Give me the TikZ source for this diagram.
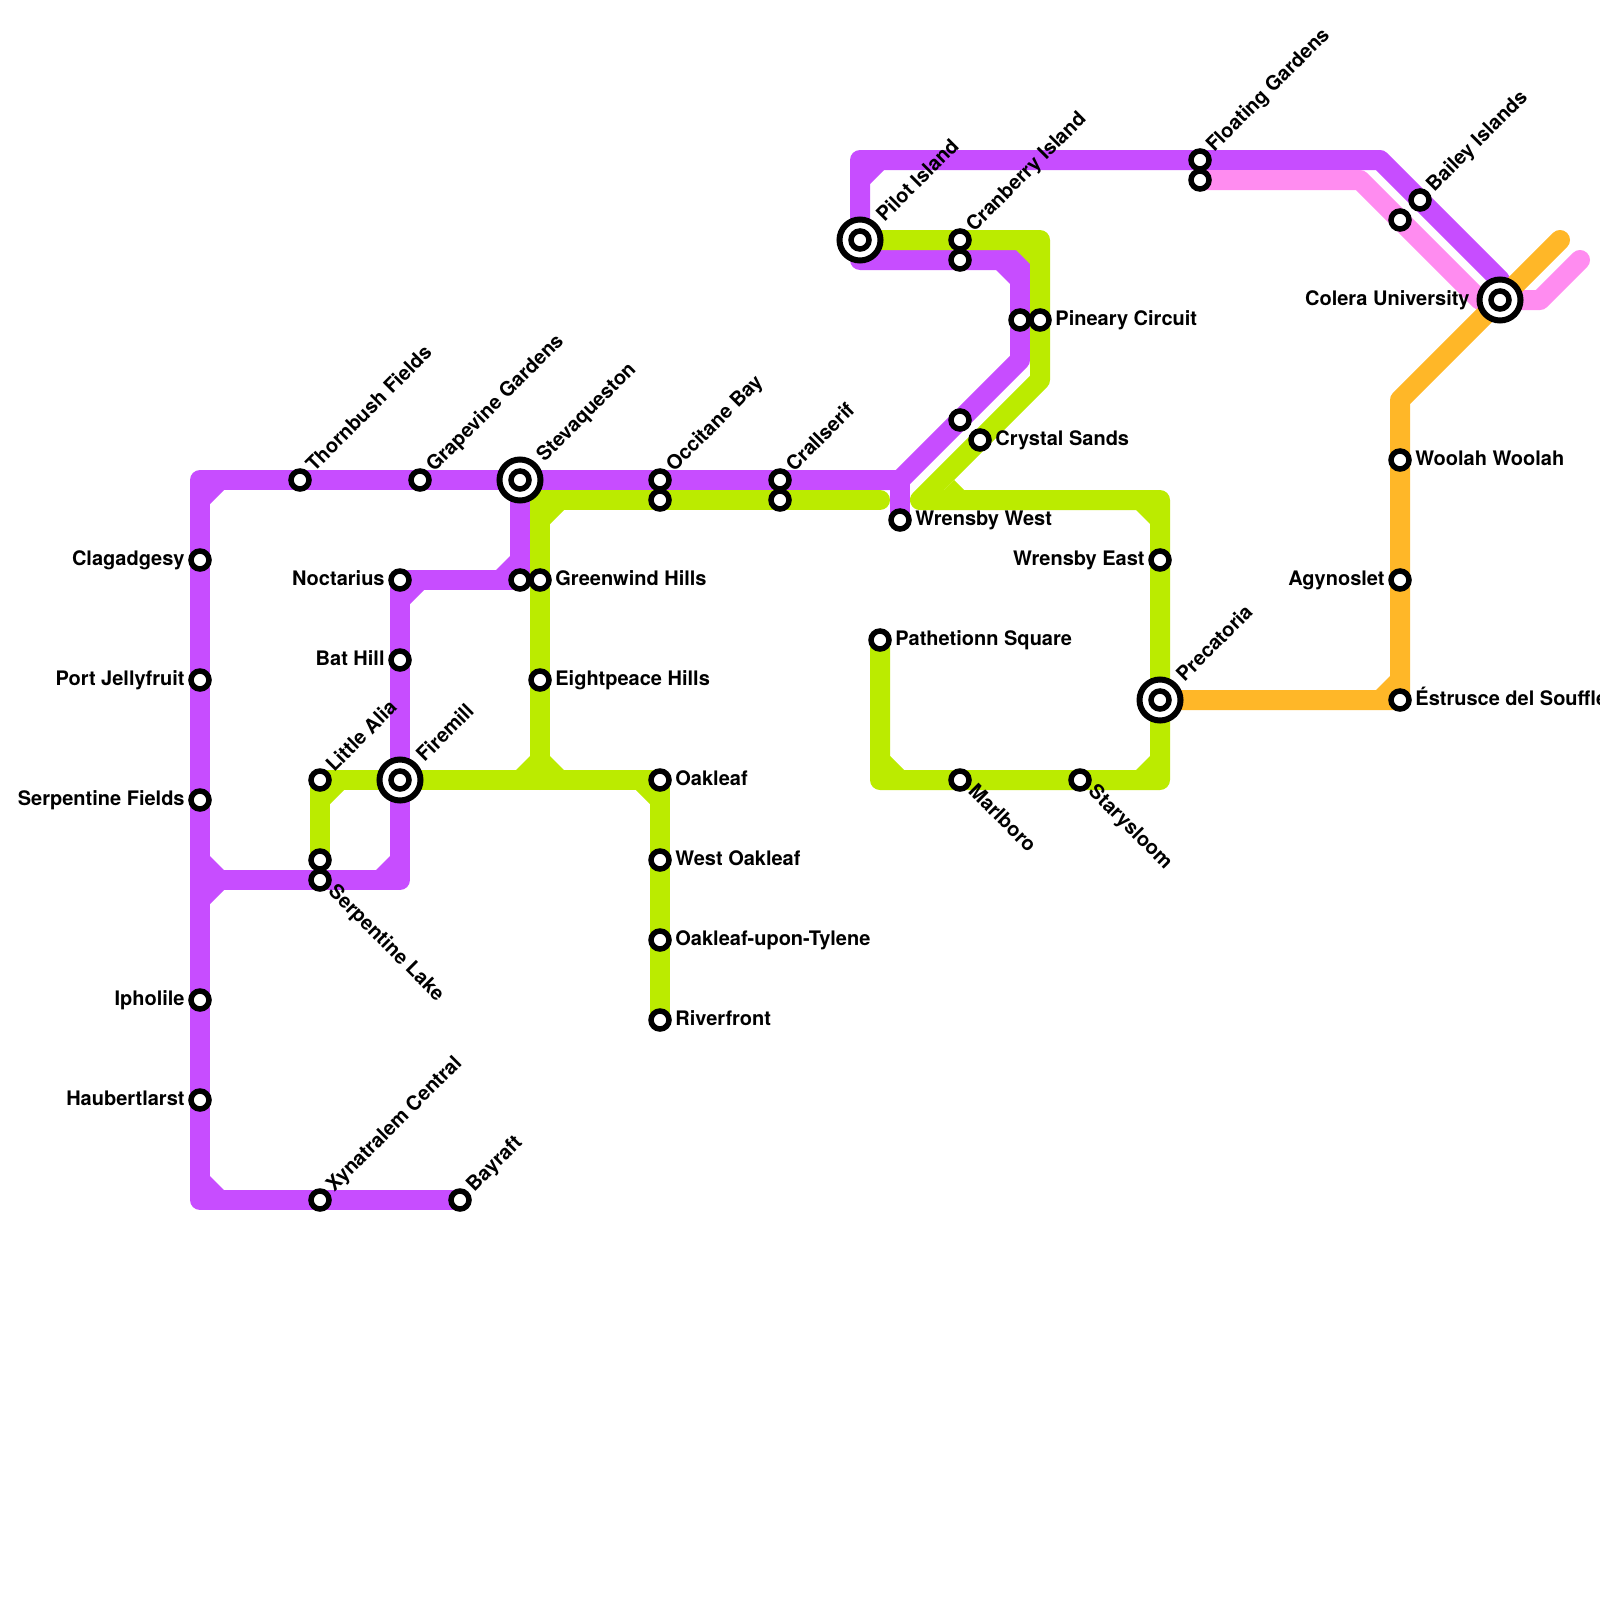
\documentclass[tikz,border=0pt]{standalone}
\usepackage{fontspec}
\setmainfont{TeX Gyre Heros}
\usetikzlibrary{backgrounds}
\definecolor{linepurple}{HTML}{C74DFF}
\definecolor{linepink}{HTML}{FF8CF0}
\definecolor{linegreen}{HTML}{BBEB00}
\definecolor{lineorange}{HTML}{FFB728}
\tikzset{
  stn/.style={circle,draw=black,fill=white,line width=2.75pt,minimum size=9pt,inner sep=0pt},
  hub/.style={circle,draw=black,fill=white,line width=3pt,minimum size=20.5pt,inner sep=0pt},
  metro/.style={line width=10pt,line cap=round,line join=round},
  lbl/.style={font=\bfseries\fontsize{10}{12}\selectfont,inner sep=0pt,black},
  lblr/.style={lbl,anchor=base west,xshift=7.5pt,yshift=-2.8pt},
  lbll/.style={lbl,anchor=base east,xshift=-7.5pt,yshift=-2.8pt},
  lblu/.style={lbl,anchor=base west,xshift=7pt,yshift=3.5pt,rotate=45},
  lbld/.style={lbl,anchor=base west,xshift=3.6pt,yshift=-6.3pt,rotate=-45},
  hubu/.style={lbl,anchor=base west,xshift=12.2pt,yshift=8.5pt,rotate=45},
}
% inner corner of a bend: corner point, then the two directions
\newcommand{\bendcut}[5]{\fill[#1] (#2,#3) -- ++(#4*14,0) -- ++(-#4*14,#5*14) -- cycle;}
\begin{document}
\begin{tikzpicture}[x=0.5pt,y=-0.5pt]
  \useasboundingbox (0,0) rectangle (1600,1600);
  % stations, left block
  \node[stn] (clagadgesy) at (200,560) {};
  \node[stn] (jellyfruit) at (200,680) {};
  \node[stn] (serpfields) at (200,800) {};
  \node[stn] (ipholile) at (200,1000) {};
  \node[stn] (haubertlarst) at (200,1100) {};
  \node[stn] (thornbush) at (300,480) {};
  \node[stn] (grapevine) at (420,480) {};
  \node[hub] (stevahub) at (520,480) {};
  \node[stn] (stevaqueston) at (520,480) {};
  \node[stn] (noctarius) at (400,580) {};
  \node[stn] (bathill) at (400,660) {};
  \node[stn] (littlealia) at (320,780) {};
  \node[hub] (firehub) at (400,780) {};
  \node[stn] (firemill) at (400,780) {};
  \node[stn] (serplakeg) at (320,860) {};
  \node[stn] (serplake) at (320,880) {};
  \node[stn] (xynatralem) at (320,1200) {};
  \node[stn] (bayraft) at (460,1200) {};
  \node[stn] (greenwindp) at (520,580) {};
  \node[stn] (greenwind) at (540,580) {};
  \node[stn] (eightpeace) at (540,680) {};
  \node[stn] (oakleaf) at (660,780) {};
  \node[stn] (westoakleaf) at (660,860) {};
  \node[stn] (tylene) at (660,940) {};
  \node[stn] (riverfront) at (660,1020) {};
  \node[stn] (occitane) at (660,480) {};
  \node[stn] (occitaneg) at (660,500) {};
  \node[stn] (crallserif) at (780,480) {};
  \node[stn] (crallserifg) at (780,500) {};
  % stations, right block
  \node[hub] (pilothub) at (860,240) {};
  \node[stn] (pilot) at (860,240) {};
  \node[stn] (cranberry) at (960,240) {};
  \node[stn] (cranberryp) at (960,260) {};
  \node[stn] (pinearyp) at (1020,320) {};
  \node[stn] (pineary) at (1040,320) {};
  \node[stn] (crystalp) at (960,420) {};
  \node[stn] (crystal) at (980,440) {};
  \node[stn] (wrensbyw) at (900,520) {};
  \node[stn] (wrensbye) at (1160,560) {};
  \node[stn] (pathetionn) at (880,640) {};
  \node[hub] (precahub) at (1160,700) {};
  \node[stn] (precatoria) at (1160,700) {};
  \node[stn] (marlboro) at (960,780) {};
  \node[stn] (starysloom) at (1080,780) {};
  \node[stn] (floating) at (1200,160) {};
  \node[stn] (floatingp) at (1200,180) {};
  \node[stn] (bailey) at (1420,200) {};
  \node[stn] (baileyp) at (1400,220) {};
  \node[hub] (colerahub) at (1500,300) {};
  \node[stn] (colera) at (1500,300) {};
  \node[stn] (woolah) at (1400,460) {};
  \node[stn] (agynoslet) at (1400,580) {};
  \node[stn] (estrusce) at (1400,700) {};
  % labels
  \node[lbll] (tclagadgesy) at (clagadgesy) {Clagadgesy};
  \node[lbll] (tjellyfruit) at (jellyfruit) {Port Jellyfruit};
  \node[lbll] (tserpfields) at (serpfields) {Serpentine Fields};
  \node[lbll] (tipholile) at (ipholile) {Ipholile};
  \node[lbll] (thaubertlarst) at (haubertlarst) {Haubertlarst};
  \node[lblu] (tthornbush) at (thornbush) {Thornbush Fields};
  \node[lblu] (tgrapevine) at (grapevine) {Grapevine Gardens};
  \node[hubu] (tstevaqueston) at (stevaqueston) {Stevaqueston};
  \node[lbll] (tnoctarius) at (noctarius) {Noctarius};
  \node[lbll] (tbathill) at (bathill) {Bat Hill};
  \node[lblu] (tlittlealia) at (littlealia) {Little Alia};
  \node[hubu] (tfiremill) at (firemill) {Firemill};
  \node[lbld] (tserplake) at (serplake) {Serpentine Lake};
  \node[lblu] (txynatralem) at (xynatralem) {Xynatralem Central};
  \node[lblu] (tbayraft) at (bayraft) {Bayraft};
  \node[lblr] (tgreenwind) at (greenwind) {Greenwind Hills};
  \node[lblr] (teightpeace) at (eightpeace) {Eightpeace Hills};
  \node[lblr] (toakleaf) at (oakleaf) {Oakleaf};
  \node[lblr] (twestoakleaf) at (westoakleaf) {West Oakleaf};
  \node[lblr] (ttylene) at (tylene) {Oakleaf-upon-Tylene};
  \node[lblr] (triverfront) at (riverfront) {Riverfront};
  \node[lblu] (toccitane) at (occitane) {Occitane Bay};
  \node[lblu] (tcrallserif) at (crallserif) {Crallserif};
  \node[hubu] (tpilot) at (pilot) {Pilot Island};
  \node[lblu] (tcranberry) at (cranberry) {Cranberry Island};
  \node[lblr] (tpineary) at (pineary) {Pineary Circuit};
  \node[lblr] (tcrystal) at (crystal) {Crystal Sands};
  \node[lblr] (twrensbyw) at (wrensbyw) {Wrensby West};
  \node[lbll] (twrensbye) at (wrensbye) {Wrensby East};
  \node[lblr] (tpathetionn) at (pathetionn) {Pathetionn Square};
  \node[hubu] (tprecatoria) at (precatoria) {Precatoria};
  \node[lbld] (tmarlboro) at (marlboro) {Marlboro};
  \node[lbld] (tstarysloom) at (starysloom) {Starysloom};
  \node[lblu] (tfloating) at (floating) {Floating Gardens};
  \node[lblu] (tbailey) at (bailey) {Bailey Islands};
  \node[lbll,xshift=-7.5pt] (tcolera) at (colera) {Colera University};
  \node[lblr] (twoolah) at (woolah) {Woolah Woolah};
  \node[lbll] (tagynoslet) at (agynoslet) {Agynoslet};
  \node[lblr] (testrusce) at (estrusce) {Éstrusce del Soufflé};
  % bends
  \coordinate (ptopleft) at (200,480);
  \coordinate (pbotleft) at (200,1200);
  \coordinate (pjoin) at (200,880);
  \coordinate (pfirecorner) at (400,880);
  \coordinate (pnoctcorner) at (520,580);
  \coordinate (pwest) at (900,480);
  \coordinate (pdiagtop) at (1020,360);
  \coordinate (pcrancorner) at (1020,260);
  \coordinate (ppilotcorner) at (860,260);
  \coordinate (ptopcorner) at (860,160);
  \coordinate (ptopright) at (1380,160);
  \coordinate (pcolera) at (1500,280);
  \coordinate (kfloat) at (1360,180);
  \coordinate (kcolera) at (1480,300);
  \coordinate (kbend) at (1540,300);
  \coordinate (kend) at (1580,260);
  \coordinate (oaggy) at (1400,400);
  \coordinate (oend) at (1560,240);
  \coordinate (gsteva) at (540,500);
  \coordinate (gend) at (880,500);
  \coordinate (gjoin) at (540,780);
  \coordinate (gtop) at (1040,240);
  \coordinate (gdiag) at (1040,380);
  \coordinate (gfoot) at (920,500);
  \coordinate (gcorner) at (1160,500);
  \coordinate (gbotright) at (1160,780);
  \coordinate (gbotleft) at (880,780);
  \begin{pgfonlayer}{background}
    \draw[metro,linepurple] (stevaqueston.center)--(ptopleft)--(pbotleft)--(bayraft.center);
    \draw[metro,linepurple] (pjoin)--(pfirecorner)--(noctarius.center)--(greenwindp.center)--(pnoctcorner)--(stevaqueston.center);
    \draw[metro,linepurple] (stevaqueston.center)--(pwest)--(pdiagtop)--(pcrancorner)--(ppilotcorner)--(pilot.center);
    \draw[metro,linepurple] (pwest)--(wrensbyw.center);
    \draw[metro,linepurple] (pilot.center)--(ptopcorner)--(ptopright)--(pcolera)--(colera.center);
    \bendcut{linepurple}{210}{490}{1}{1}
    \bendcut{linepurple}{210}{1190}{1}{-1}
    \bendcut{linepurple}{210}{870}{1}{-1}
    \bendcut{linepurple}{210}{890}{1}{1}
    \bendcut{linepurple}{390}{870}{-1}{-1}
    \bendcut{linepurple}{410}{590}{1}{1}
    \bendcut{linepurple}{510}{570}{-1}{-1}
    \bendcut{linepurple}{1010}{270}{-1}{1}
    \bendcut{linepurple}{870}{170}{1}{1}
    \draw[metro,linepink] (floatingp.center)--(kfloat)--(kcolera)--(kbend)--(kend);
    \draw[metro,lineorange] (precatoria.center)--(estrusce.center)--(oaggy)--(oend);
    \bendcut{lineorange}{1390}{690}{-1}{-1}
    \draw[metro,linegreen] (gend)--(gsteva)--(gjoin);
    \draw[metro,linegreen] (serplakeg.center)--(littlealia.center)--(oakleaf.center)--(riverfront.center);
    \draw[metro,linegreen] (pilot.center)--(gtop)--(gdiag)--(gfoot)--(gcorner)--(gbotright)--(gbotleft)--(pathetionn.center);
    \bendcut{linegreen}{550}{510}{1}{1}
    \bendcut{linegreen}{530}{770}{-1}{-1}
    \bendcut{linegreen}{550}{770}{1}{-1}
    \bendcut{linegreen}{650}{790}{-1}{1}
    \bendcut{linegreen}{330}{790}{1}{1}
    \bendcut{linegreen}{1030}{250}{-1}{1}
    \bendcut{linegreen}{1150}{510}{-1}{1}
    \bendcut{linegreen}{1150}{770}{-1}{-1}
    \bendcut{linegreen}{890}{770}{1}{-1}
    \fill[linegreen] (944,490)--(954,480)--(964,490)--cycle;
  \end{pgfonlayer}
\end{tikzpicture}
\end{document}
